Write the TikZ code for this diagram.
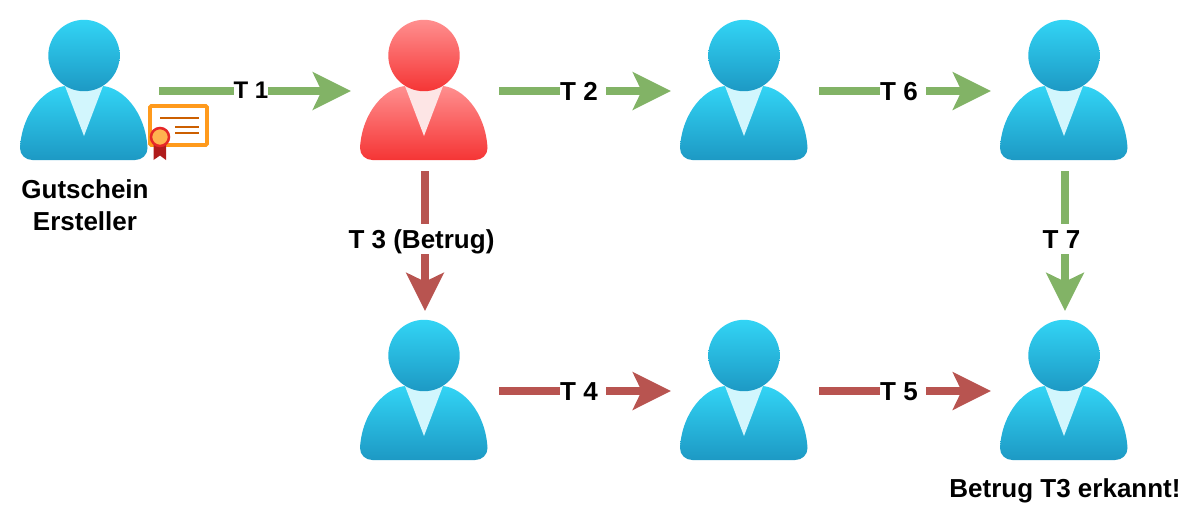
\documentclass[tikz,border=0pt]{standalone}
\usepackage{fontspec}
\setmainfont{Liberation Sans}
\usetikzlibrary{arrows.meta}
\definecolor{okgreen}{HTML}{82B366}
\definecolor{badred}{HTML}{B85450}
\definecolor{bluetop}{HTML}{32D4F5}
\definecolor{bluebot}{HTML}{1D99C4}
\definecolor{bluetie}{HTML}{D2F6FD}
\definecolor{redtop}{HTML}{FF8F8F}
\definecolor{redbot}{HTML}{F53535}
\definecolor{redmid}{HTML}{FA7070}
\definecolor{redtie}{HTML}{FDE5E5}
\definecolor{certorange}{HTML}{FF9A1C}
\definecolor{certline}{HTML}{CC5F00}
\definecolor{sealred}{HTML}{E62828}
\definecolor{sealfill}{HTML}{FFB34F}
\definecolor{ribbon}{HTML}{B01C1C}
\tikzset{
  x=0.75pt, y=-0.75pt,
  personbox/.style={minimum width=96pt, minimum height=105pt, inner sep=0pt, outer sep=0pt},
  flow/.style={line width=6pt, shorten <=7.5pt, shorten >=7.5pt,
    -{Stealth[length=28.5pt, width=28pt, inset=6.5pt]}},
  good/.style={flow, draw=okgreen, color=okgreen},
  bad/.style={flow, draw=badred, color=badred},
  lab/.style={fill=white, inner sep=0pt, font=\bfseries\fontsize{19.5pt}{24pt}\selectfont, text=black},
  captext/.style={inner sep=0pt, align=center, font=\bfseries\fontsize{19.5pt}{24pt}\selectfont, text=black},
}
\newcommand{\person}[7]{% name, x, y (of top-left), top, middle, bottom, tie
  \begin{scope}[shift={(#2,#3)}]
    \shade[top color=#4, middle color=#5, bottom color=#6]
      (0,128) .. controls (2,92) and (25,68) .. (45,66)
      -- (83,66) .. controls (103,68) and (125.5,92) .. (127.5,128)
      .. controls (127.5,135) and (122,140) .. (115,140)
      -- (12.5,140) .. controls (5.5,140) and (0,135) .. (0,128) -- cycle;
    \fill[#7] (45,66) -- (83,66) -- (64,116) -- cycle;
    \shade[top color=#4, middle color=#5, bottom color=#6] (64,35.5) circle[radius=35.7];
    \node[personbox] (#1) at (65,71) {};
  \end{scope}
}
\colorlet{bluemid}{bluetop!50!bluebot}
\begin{document}
\begin{tikzpicture}
\useasboundingbox (0,0) rectangle (1200,526);
\person{p1}{20}{20}{bluetop}{bluemid}{bluebot}{bluetie}
\person{p2}{360}{20}{redtop}{redmid}{redbot}{redtie}
\person{p3}{680}{20}{bluetop}{bluemid}{bluebot}{bluetie}
\person{p4}{1000}{20}{bluetop}{bluemid}{bluebot}{bluetie}
\person{p5}{360}{320}{bluetop}{bluemid}{bluebot}{bluetie}
\person{p6}{680}{320}{bluetop}{bluemid}{bluebot}{bluetie}
\person{p7}{1000}{320}{bluetop}{bluemid}{bluebot}{bluetie}
% certificate
\draw[certorange, line width=2.8pt, fill=white, rounded corners=1pt] (150,106) rectangle (207,145);
\draw[certline, line width=1.1pt] (160,118) -- (199,118) (175,127) -- (199,127) (175,133) -- (199,133);
\fill[ribbon] (153.5,145) -- (166,145) -- (166,160) -- (160,155.5) -- (153.5,160) -- cycle;
\draw[sealred, line width=1.9pt, fill=sealfill] (160,137) circle[radius=9];
% connectors
\draw[good] (p1) -- (p2);
\draw[good] (p2) -- (p3);
\draw[good] (p3) -- (p4);
\draw[bad] (p2) -- (p5);
\draw[good] (p4) -- (p7);
\draw[bad] (p5) -- (p6);
\draw[bad] (p6) -- (p7);
% labels
\node[lab, font=\bfseries\fontsize{18pt}{22pt}\selectfont, minimum width=25.5pt, minimum height=20pt] (t1) at (251,90) {T 1};
\node[lab, minimum width=34.5pt, minimum height=20pt] (t2) at (583,91.5) {\mbox{T 2\hspace{6pt}}};
\node[lab, minimum width=34.5pt, minimum height=20pt] (t6) at (903,91.5) {\mbox{T 6\hspace{6pt}}};
\node[lab, minimum width=34.5pt, minimum height=20pt] (t4) at (583,391.5) {\mbox{T 4\hspace{6pt}}};
\node[lab, minimum width=34.5pt, minimum height=20pt] (t5) at (903,391.5) {\mbox{T 5\hspace{6pt}}};
\node[lab, minimum height=22.5pt] (t3) at (421.5,239) {\raisebox{-6.8pt}[0pt][0pt]{T 3 (Betrug)}};
\node[lab, minimum height=22.5pt, minimum width=30pt] (t7) at (1061.5,239) {\raisebox{-6.8pt}[0pt][0pt]{T 7}};
\node[captext] (creator) at (85,205) {Gutschein\\Ersteller};
\node[captext] (found) at (1065,491) {Betrug T3 erkannt!};
\end{tikzpicture}
\end{document}
